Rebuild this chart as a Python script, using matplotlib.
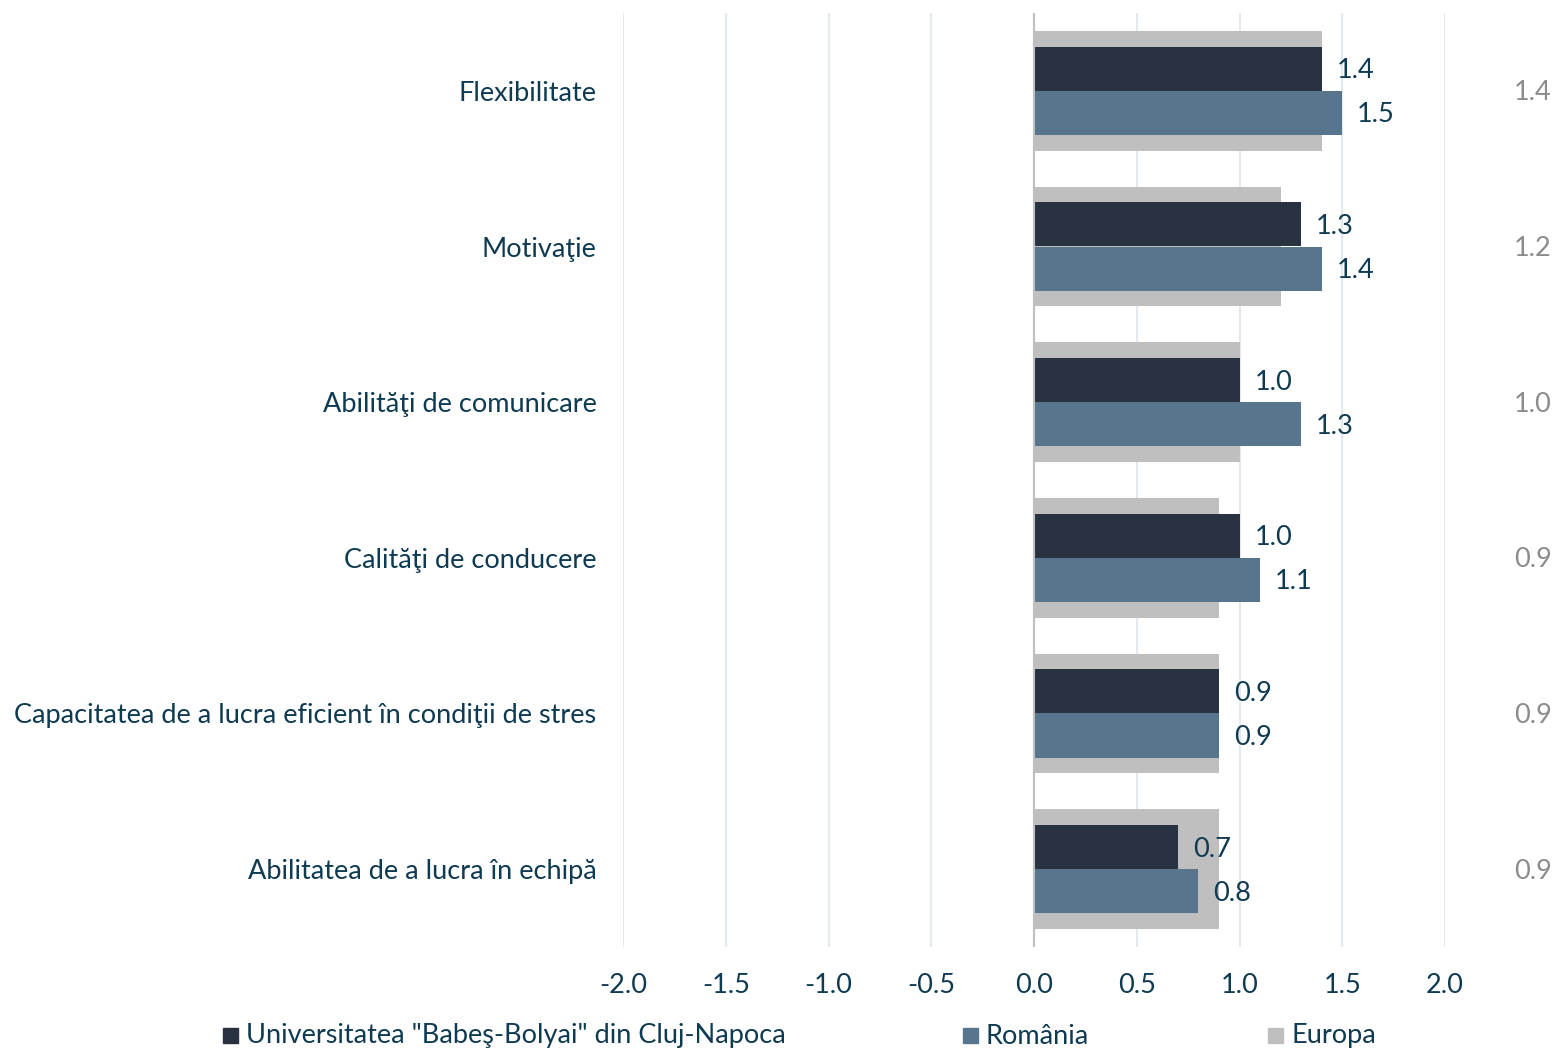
import matplotlib
matplotlib.use("Agg")
import matplotlib.pyplot as plt
import matplotlib.transforms as mtransforms
from matplotlib.patches import Rectangle

categories = ["Flexibilitate", "Motivaţie", "Abilităţi de comunicare",
              "Calităţi de conducere",
              "Capacitatea de a lucra eficient în condiţii de stres",
              "Abilitatea de a lucra în echipă"]
ubb = [1.4, 1.3, 1.0, 1.0, 0.9, 0.7]
romania = [1.5, 1.4, 1.3, 1.1, 0.9, 0.8]
europa = [1.4, 1.2, 1.0, 0.9, 0.9, 0.9]
series_names = ['Universitatea "Babeş-Bolyai" din Cluj-Napoca', "România", "Europa"]
xticks = [-2.0, -1.5, -1.0, -0.5, 0.0, 0.5, 1.0, 1.5, 2.0]

c_ubb = "#283241"
c_ro = "#57758D"
c_eu = "#BFBFBF"
txt = "#0E3A52"
FS = 19.5

plt.rcParams['font.family'] = ['Lato', 'DejaVu Sans']

W, H = 1557, 1050
fig = plt.figure(figsize=(W / 100, H / 100), dpi=100)
ax = fig.add_axes([623 / W, 1 - 947 / H, (1445 - 623) / W, (947 - 13) / H])

y = list(range(len(categories)))
bw = 0.283
ax.barh(y, europa, height=0.77, color=c_eu, zorder=2)
ax.barh([v - bw / 2 for v in y], ubb, height=bw, color=c_ubb, zorder=3)
ax.barh([v + bw / 2 for v in y], romania, height=bw, color=c_ro, zorder=3)

ax.set_xlim(-2.0, 2.0)
ax.set_ylim(len(categories) - 0.5, -0.5)
ax.set_xticks(xticks)
ax.set_xticklabels([f"{t:.1f}" for t in xticks])
ax.set_yticks(y)
ax.set_yticklabels(categories)
ax.tick_params(axis='both', length=0, labelsize=FS, colors=txt)
ax.tick_params(axis='y', pad=19)
ax.tick_params(axis='x', pad=19)
for s in ax.spines.values():
    s.set_visible(False)
ax.grid(axis='x', color="#E3E9EC", linewidth=1.5, zorder=0)
ax.axvline(0, color="#BFBFBF", linewidth=1.5, zorder=4)

for yi, v in zip(y, ubb):
    ax.annotate(f"{v:.1f}", (v, yi - bw / 2), xytext=(15, -2), textcoords="offset pixels",
                va="center", ha="left", fontsize=FS, color=txt, zorder=5)
for yi, v in zip(y, romania):
    ax.annotate(f"{v:.1f}", (v, yi + bw / 2), xytext=(15, -2), textcoords="offset pixels",
                va="center", ha="left", fontsize=FS, color=txt, zorder=5)

tr = mtransforms.blended_transform_factory(fig.transFigure, ax.transData)
for yi, v in zip(y, europa):
    ax.annotate(f"{v:.1f}", (1552 / W, yi), xycoords=tr, xytext=(0, -2),
                textcoords="offset pixels", ha="right", va="center",
                fontsize=FS, color="#8C8C8C")

# legend
leg = [(223, c_ubb, series_names[0]), (963, c_ro, series_names[1]), (1268, c_eu, series_names[2])]
for xp, col, name in leg:
    fig.patches.append(Rectangle((xp / W, 1 - 1043 / H), 15 / W, 15 / H,
                                 transform=fig.transFigure, color=col))
    fig.text((xp + 23) / W, 1 - 1036 / H, name, ha="left", va="center",
             fontsize=FS, color=txt)

fig.savefig("out.png", dpi=100)
